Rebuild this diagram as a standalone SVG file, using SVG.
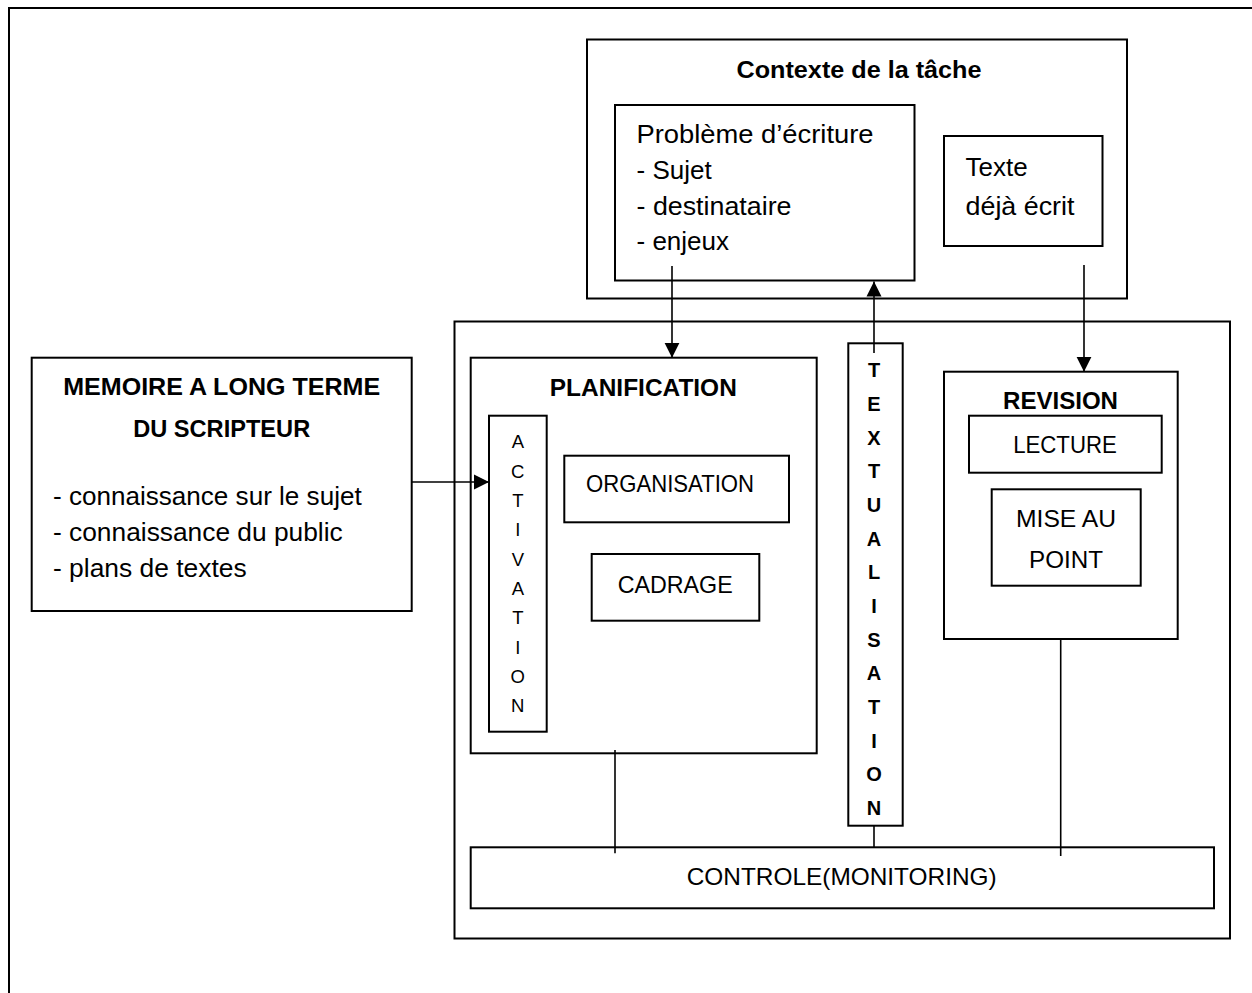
<svg xmlns="http://www.w3.org/2000/svg" width="1252" height="993" viewBox="0 0 1252 993">
<style>
  .box{fill:#fff;stroke:#000;stroke-width:2}
  .ln{fill:none;stroke:#000;stroke-width:1.6}
  text{font-family:"Liberation Sans",Arial,sans-serif;fill:#000}
  .r{font-size:26px}
  .b{font-size:24px;font-weight:bold}
  .m{font-size:24px}
  .c{text-anchor:middle}
  .act{font-size:18.5px;text-anchor:middle}
  .tx{font-size:20px;font-weight:bold;text-anchor:middle}
</style>
<defs>
  <marker id="ah" markerUnits="userSpaceOnUse" markerWidth="16" markerHeight="16" viewBox="0 0 16 16" refX="15" refY="8" orient="auto">
    <path d="M0,0.5 L15,8 L0,15.5 Z" fill="#000"/>
  </marker>
</defs>
<rect x="0" y="0" width="1252" height="993" fill="#fff"/>
<path id="frame" d="M9,993 L9,8 L1252,8" fill="none" stroke="#000" stroke-width="2"/>

<g id="contexte">
  <rect class="box" x="587" y="39.5" width="540" height="259"/>
  <text class="b c" x="859" y="78" textLength="245" lengthAdjust="spacingAndGlyphs">Contexte de la tâche</text>
</g>
<g id="probleme">
  <rect class="box" x="615" y="105" width="299.5" height="175.5"/>
  <text class="r" x="636.5" y="143" textLength="237" lengthAdjust="spacingAndGlyphs">Problème d’écriture</text>
  <text class="r" x="636.5" y="179">- Sujet</text>
  <text class="r" x="636.5" y="215" textLength="155" lengthAdjust="spacingAndGlyphs">- destinataire</text>
  <text class="r" x="636.5" y="250">- enjeux</text>
</g>
<g id="texte">
  <rect class="box" x="944" y="136" width="158.5" height="110"/>
  <text class="r" x="965.5" y="175.5">Texte</text>
  <text class="r" x="965.5" y="215" textLength="109" lengthAdjust="spacingAndGlyphs">déjà écrit</text>
</g>

<g id="memoire">
  <rect class="box" x="31.7" y="357.7" width="380" height="253.3"/>
  <text class="b c" x="221.7" y="395" textLength="317" lengthAdjust="spacingAndGlyphs">MEMOIRE A LONG TERME</text>
  <text class="b c" x="221.7" y="436.7" textLength="177" lengthAdjust="spacingAndGlyphs">DU SCRIPTEUR</text>
  <text class="r" x="53" y="505" textLength="308.7" lengthAdjust="spacingAndGlyphs">- connaissance sur le sujet</text>
  <text class="r" x="53" y="541" textLength="289.7" lengthAdjust="spacingAndGlyphs">- connaissance du public</text>
  <text class="r" x="53" y="576.7" textLength="193.7" lengthAdjust="spacingAndGlyphs">- plans de textes</text>
</g>

<g id="processus">
  <rect class="box" x="454.5" y="321.5" width="775.5" height="617"/>
</g>

<g id="planification">
  <rect class="box" x="470.7" y="357.7" width="346" height="395.6"/>
  <text class="b c" x="643.3" y="396" textLength="187" lengthAdjust="spacingAndGlyphs">PLANIFICATION</text>
</g>
<g id="activation">
  <rect class="box" x="489" y="415.7" width="57.7" height="316"/>
  <text class="act" x="517.8" y="448.3">A</text>
  <text class="act" x="517.8" y="477.6">C</text>
  <text class="act" x="517.8" y="507">T</text>
  <text class="act" x="517.8" y="536.3">I</text>
  <text class="act" x="517.8" y="565.6">V</text>
  <text class="act" x="517.8" y="595">A</text>
  <text class="act" x="517.8" y="624.3">T</text>
  <text class="act" x="517.8" y="653.6">I</text>
  <text class="act" x="517.8" y="683">O</text>
  <text class="act" x="517.8" y="712.3">N</text>
</g>
<g id="organisation">
  <rect class="box" x="564.3" y="455.7" width="224.7" height="66.6"/>
  <text class="m" x="586" y="491.7" textLength="168" lengthAdjust="spacingAndGlyphs">ORGANISATION</text>
</g>
<g id="cadrage">
  <rect class="box" x="591.7" y="554" width="167.6" height="66.7"/>
  <text class="m" x="617.7" y="593" textLength="115" lengthAdjust="spacingAndGlyphs">CADRAGE</text>
</g>

<g id="textualisation">
  <rect class="box" x="848.3" y="343.3" width="54.4" height="482.4"/>
  <text class="tx" x="874" y="377.3">T</text>
  <text class="tx" x="874" y="411">E</text>
  <text class="tx" x="874" y="444.6">X</text>
  <text class="tx" x="874" y="478.3">T</text>
  <text class="tx" x="874" y="512">U</text>
  <text class="tx" x="874" y="545.6">A</text>
  <text class="tx" x="874" y="579.3">L</text>
  <text class="tx" x="874" y="613">I</text>
  <text class="tx" x="874" y="646.7">S</text>
  <text class="tx" x="874" y="680.3">A</text>
  <text class="tx" x="874" y="714">T</text>
  <text class="tx" x="874" y="747.7">I</text>
  <text class="tx" x="874" y="781.3">O</text>
  <text class="tx" x="874" y="815">N</text>
</g>

<g id="revision">
  <rect class="box" x="944" y="371.7" width="233.7" height="267.3"/>
  <text class="b c" x="1060.5" y="409" textLength="115" lengthAdjust="spacingAndGlyphs">REVISION</text>
</g>
<g id="lecture">
  <rect class="box" x="969" y="415.7" width="192.7" height="57"/>
  <text class="m c" x="1065" y="453" textLength="103.7" lengthAdjust="spacingAndGlyphs">LECTURE</text>
</g>
<g id="miseaupoint">
  <rect class="box" x="991.7" y="489.3" width="149" height="96.4"/>
  <text class="m c" x="1066" y="527.3" textLength="100" lengthAdjust="spacingAndGlyphs">MISE AU</text>
  <text class="m c" x="1066" y="568.3" textLength="74" lengthAdjust="spacingAndGlyphs">POINT</text>
</g>

<g id="controle">
  <rect class="box" x="470.7" y="847.3" width="743.3" height="61"/>
  <text class="m c" x="841.7" y="885" textLength="310" lengthAdjust="spacingAndGlyphs">CONTROLE(MONITORING)</text>
</g>

<g id="connectors">
  <line class="ln" x1="672" y1="266" x2="672" y2="357.7" marker-end="url(#ah)"/>
  <line class="ln" x1="874" y1="353" x2="874" y2="281.5" marker-end="url(#ah)"/>
  <line class="ln" x1="1084" y1="265" x2="1084" y2="371.7" marker-end="url(#ah)"/>
  <line class="ln" x1="411.7" y1="482" x2="489" y2="482" marker-end="url(#ah)"/>
  <line class="ln" x1="615" y1="750" x2="615" y2="853.3"/>
  <line class="ln" x1="874" y1="825.7" x2="874" y2="847.3"/>
  <line class="ln" x1="1060.7" y1="639" x2="1060.7" y2="856"/>
</g>
</svg>
